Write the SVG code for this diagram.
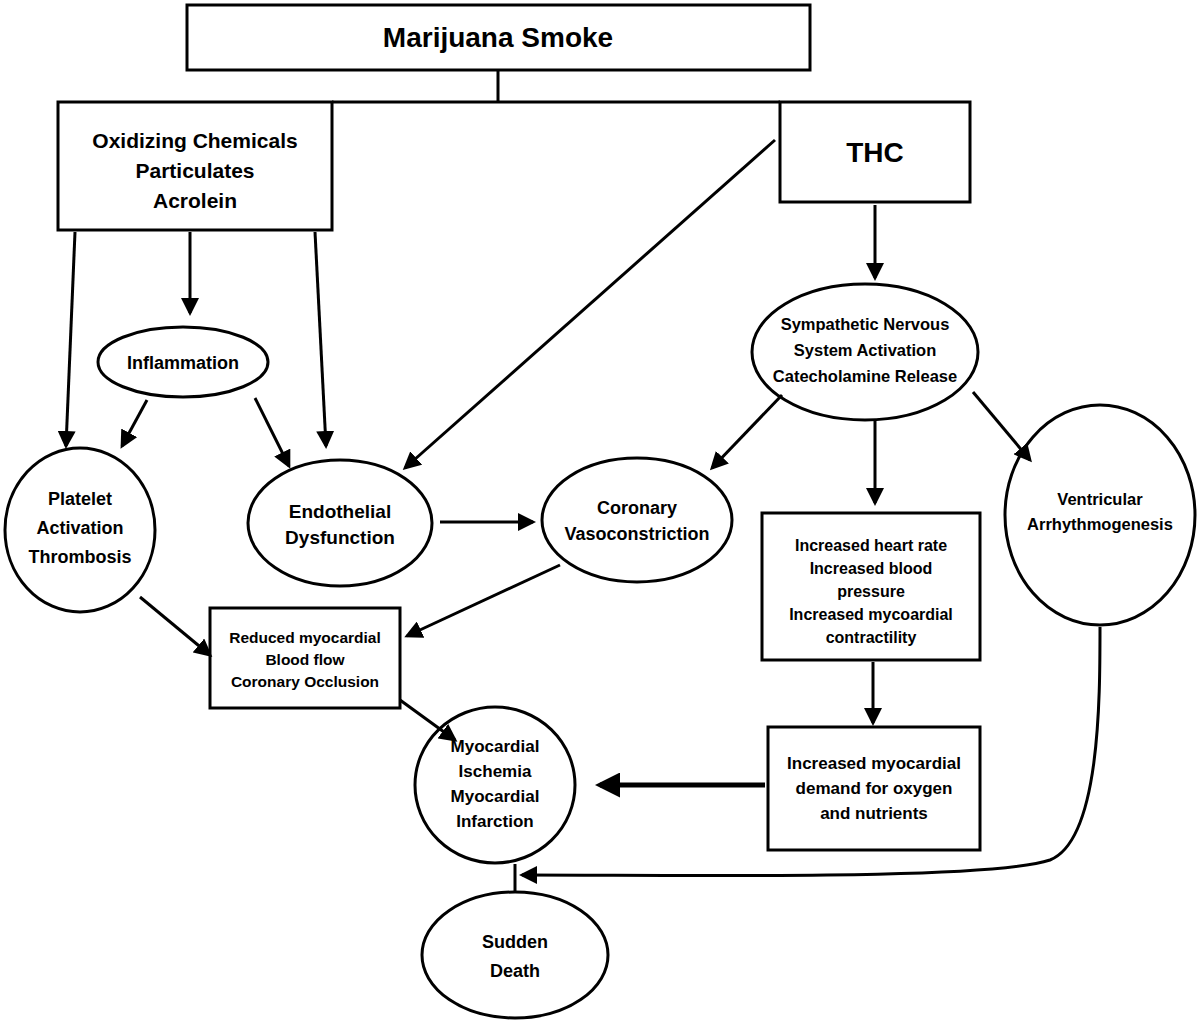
<svg xmlns="http://www.w3.org/2000/svg" width="1200" height="1023" viewBox="0 0 1200 1023">
<style>
.s{fill:#fff;stroke:#000;stroke-width:3}
.t{font-family:"Liberation Sans Narrow","Liberation Sans",Arial,sans-serif;font-weight:bold;text-anchor:middle}
.c{stroke:#000;stroke-width:3;fill:none;marker-end:url(#a)}
</style>
<defs><marker id="a" markerWidth="6" markerHeight="6" refX="5" refY="3" orient="auto"><path d="M0,0L6,3L0,6z"/></marker>
<marker id="b" markerWidth="5" markerHeight="5" refX="4" refY="2.5" orient="auto"><path d="M0,0L5,2.5L0,5z"/></marker></defs>
<rect width="1200" height="1023" fill="#fff"/>
<g id="smoke"><rect class="s" x="187" y="5" width="623" height="65"/><text class="t" x="498" y="47" style="font-size:28px">Marijuana Smoke</text></g>
<g id="oxid"><rect class="s" x="58" y="102" width="274" height="128"/><text class="t" x="195" y="148" style="font-size:21px">Oxidizing Chemicals</text><text class="t" x="195" y="178" style="font-size:21px">Particulates</text><text class="t" x="195" y="208" style="font-size:21px">Acrolein</text></g>
<g id="thc"><rect class="s" x="780" y="102" width="190" height="100"/><text class="t" x="875" y="162" style="font-size:28px">THC</text></g>
<g id="infl"><ellipse class="s" cx="183" cy="362" rx="85" ry="35"/><text class="t" x="183" y="369" style="font-size:18px">Inflammation</text></g>
<g id="plat"><ellipse class="s" cx="80" cy="530" rx="75" ry="82"/><text class="t" x="80" y="505" style="font-size:18px">Platelet</text><text class="t" x="80" y="534" style="font-size:18px">Activation</text><text class="t" x="80" y="563" style="font-size:18px">Thrombosis</text></g>
<g id="endo"><ellipse class="s" cx="340" cy="523" rx="92" ry="63"/><text class="t" x="340" y="518" style="font-size:19px">Endothelial</text><text class="t" x="340" y="544" style="font-size:19px">Dysfunction</text></g>
<g id="coro"><ellipse class="s" cx="637" cy="520" rx="95" ry="62"/><text class="t" x="637" y="514" style="font-size:18px">Coronary</text><text class="t" x="637" y="540" style="font-size:18px">Vasoconstriction</text></g>
<g id="symp"><ellipse class="s" cx="865" cy="352" rx="113" ry="68"/><text class="t" x="865" y="330" style="font-size:16.5px">Sympathetic Nervous</text><text class="t" x="865" y="356" style="font-size:16.5px">System Activation</text><text class="t" x="865" y="382" style="font-size:16.5px">Catecholamine Release</text></g>
<g id="vent"><ellipse class="s" cx="1100" cy="515" rx="95" ry="110"/><text class="t" x="1100" y="505" style="font-size:16.5px">Ventricular</text><text class="t" x="1100" y="530" style="font-size:16.5px">Arrhythmogenesis</text></g>
<g id="hr"><rect class="s" x="762" y="513" width="218" height="147"/><text class="t" x="871" y="551" style="font-size:16px">Increased heart rate</text><text class="t" x="871" y="574" style="font-size:16px">Increased blood</text><text class="t" x="871" y="597" style="font-size:16px">pressure</text><text class="t" x="871" y="620" style="font-size:16px">Increased mycoardial</text><text class="t" x="871" y="643" style="font-size:16px">contractility</text></g>
<g id="reduced"><rect class="s" x="210" y="608" width="190" height="100"/><text class="t" x="305" y="643" style="font-size:15.5px">Reduced myocardial</text><text class="t" x="305" y="665" style="font-size:15.5px">Blood flow</text><text class="t" x="305" y="687" style="font-size:15.5px">Coronary Occlusion</text></g>
<g id="isch"><ellipse class="s" cx="495" cy="785" rx="80" ry="78"/><text class="t" x="495" y="752" style="font-size:17px">Myocardial</text><text class="t" x="495" y="777" style="font-size:17px">Ischemia</text><text class="t" x="495" y="802" style="font-size:17px">Myocardial</text><text class="t" x="495" y="827" style="font-size:17px">Infarction</text></g>
<g id="demand"><rect class="s" x="768" y="727" width="212" height="123"/><text class="t" x="874" y="769" style="font-size:17px">Increased myocardial</text><text class="t" x="874" y="794" style="font-size:17px">demand for oxygen</text><text class="t" x="874" y="819" style="font-size:17px">and nutrients</text></g>
<g id="death"><ellipse class="s" cx="515" cy="955" rx="93" ry="63"/><text class="t" x="515" y="948" style="font-size:18px">Sudden</text><text class="t" x="515" y="977" style="font-size:18px">Death</text></g>
<g id="connectors">
<path d="M498,70V102M332,102H780" stroke="#000" stroke-width="3" fill="none"/>
<path class="c" d="M75,232L66,446"/>
<path class="c" d="M190,232V313"/>
<path class="c" d="M315,232L326,446"/>
<path class="c" d="M147,400L122,446"/>
<path class="c" d="M255,398L289,466"/>
<path class="c" d="M775,140L405,468"/>
<path class="c" d="M875,205V278"/>
<path class="c" d="M782,395L712,468"/>
<path class="c" d="M875,420V503"/>
<path class="c" d="M973,392L1030,460"/>
<path class="c" d="M440,522H533"/>
<path class="c" d="M560,565L407,636"/>
<path class="c" d="M140,597L210,655"/>
<path class="c" d="M400,700L455,740"/>
<path class="c" d="M873,662V723"/>
<path d="M765,785H600" stroke="#000" stroke-width="5" fill="none" marker-end="url(#b)"/>
<path class="c" d="M1100,627C1100,700 1100,840 1050,860C990,880 700,875 522,875"/>
<path d="M515,864V892" stroke="#000" stroke-width="3"/>
</g>
</svg>
